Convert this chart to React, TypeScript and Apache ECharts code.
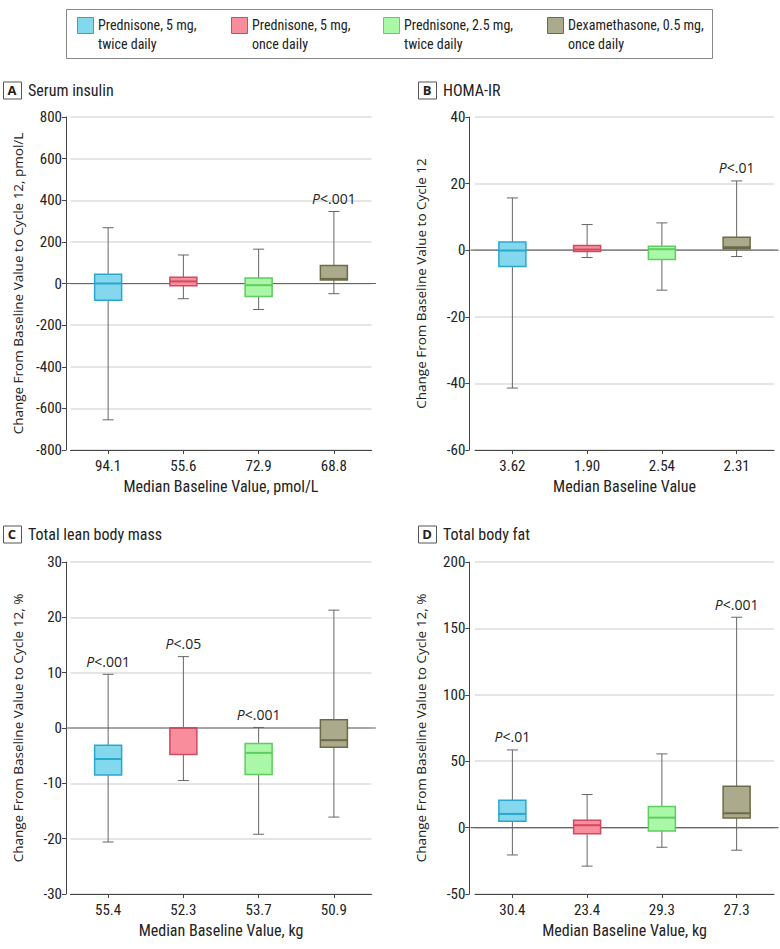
import React, { useEffect, useRef } from 'react';
import * as echarts from 'echarts';

// ---------- data ----------
const treatments = [
  'Prednisone, 5 mg,\ntwice daily',
  'Prednisone, 5 mg,\nonce daily',
  'Prednisone, 2.5 mg,\ntwice daily',
  'Dexamethasone, 0.5 mg,\nonce daily',
];
const fillColors = ['#84d8ee', '#f88d9b', '#aaf7a7', '#abaa8c'];
const edgeColors = ['#2aa7cf', '#cf4b63', '#5fcd5f', '#6c6b47'];

const panelLetters = ['A', 'B', 'C', 'D'];
const panelTitles = ['Serum insulin', 'HOMA-IR', 'Total lean body mass', 'Total body fat'];
const yTitles = [
  'Change From Baseline Value to Cycle 12, pmol/L',
  'Change From Baseline Value to Cycle 12',
  'Change From Baseline Value to Cycle 12, %',
  'Change From Baseline Value to Cycle 12, %',
];
const xTitles = [
  'Median Baseline Value, pmol/L',
  'Median Baseline Value',
  'Median Baseline Value, kg',
  'Median Baseline Value, kg',
];

// categories (median baseline values)
const insulinCats = ['94.1', '55.6', '72.9', '68.8'];
const homaCats = ['3.62', '1.90', '2.54', '2.31'];
const leanCats = ['55.4', '52.3', '53.7', '50.9'];
const fatCats = ['30.4', '23.4', '29.3', '27.3'];

// box stats: [min, Q1, median, Q3, max]
const insulinBoxes = [
  [-655, -81, 0, 44, 268],
  [-73, -11, 10, 30, 137],
  [-125, -62, -8, 27, 165],
  [-49, 17, 22, 87, 346],
];
const homaBoxes = [
  [-41.4, -4.9, -0.1, 2.5, 15.7],
  [-2.2, -0.4, 0.2, 1.4, 7.7],
  [-12, -2.8, 0.3, 1.2, 8.2],
  [-1.9, 0.4, 0.9, 3.9, 20.8],
];
const leanBoxes = [
  [-20.6, -8.5, -5.6, -3.1, 9.7],
  [-9.5, -4.8, 0, 0, 12.9],
  [-19.2, -8.4, -4.5, -2.8, 0.1],
  [-16.1, -3.5, -2.2, 1.5, 21.3],
];
const fatBoxes = [
  [-20.6, 4.8, 10.3, 20.6, 58.5],
  [-29, -4.7, 1.8, 5.5, 24.9],
  [-14.8, -2.5, 7.5, 15.8, 55.5],
  [-17, 7.3, 10.8, 31.2, 158.4],
];

// P values shown above groups
const insulinP = ['', '', '', '.001'];
const homaP = ['', '', '', '.01'];
const leanP = ['.001', '.05', '.001', ''];
const fatP = ['.01', '', '', '.001'];

// y-axis scales
const yMins = [-800, -60, -30, -50];
const yMaxs = [800, 40, 30, 200];
const yIntervals = [200, 20, 10, 50];

const allCats = [insulinCats, homaCats, leanCats, fatCats];
const allBoxes = [insulinBoxes, homaBoxes, leanBoxes, fatBoxes];
const allP = [insulinP, homaP, leanP, fatP];

// ---------- layout ----------
const NARROW = '"Liberation Sans Narrow", "Roboto Condensed", Roboto, sans-serif';
const WIDE = '"Open Sans", "Noto Sans", sans-serif';

const grids = [
  { left: 70.5, top: 117, width: 301, height: 333, off: 4.5 },
  { left: 475, top: 117, width: 299, height: 333, off: 5.7 },
  { left: 70.5, top: 562, width: 301, height: 332, off: 4.5 },
  { left: 475, top: 562, width: 299, height: 332, off: 5.7 },
];
const titleY = [90, 90, 534, 534];
const titleX = [3, 418, 3, 418];

function makeBoxRender(panel: number) {
  return function (params: any, api: any) {
    const i = api.value(0);
    const lo = api.coord([i, api.value(1)]);
    const q1 = api.coord([i, api.value(2)]);
    const md = api.coord([i, api.value(3)]);
    const q3 = api.coord([i, api.value(4)]);
    const hi = api.coord([i, api.value(5)]);
    const x = hi[0];
    const bw = 27;
    const cw = 11;
    const k = params.dataIndex;
    const wStyle = { stroke: '#666', lineWidth: 1 };
    const children: any[] = [
      { type: 'line', shape: { x1: x, y1: hi[1], x2: x, y2: q3[1] }, style: wStyle },
      { type: 'line', shape: { x1: x, y1: q1[1], x2: x, y2: lo[1] }, style: wStyle },
      { type: 'line', shape: { x1: x - cw / 2, y1: hi[1], x2: x + cw / 2, y2: hi[1] }, style: wStyle },
      { type: 'line', shape: { x1: x - cw / 2, y1: lo[1], x2: x + cw / 2, y2: lo[1] }, style: wStyle },
      {
        type: 'rect',
        shape: { x: x - bw / 2, y: q3[1], width: bw, height: Math.max(q1[1] - q3[1], 1) },
        style: { fill: fillColors[k], stroke: edgeColors[k], lineWidth: 1.5 },
      },
      {
        type: 'line',
        shape: { x1: x - bw / 2, y1: md[1], x2: x + bw / 2, y2: md[1] },
        style: { stroke: edgeColors[k], lineWidth: 2 },
      },
    ];
    const p = allP[panel][k];
    if (p) {
      children.push({
        type: 'text',
        x: x,
        y: hi[1] - 13,
        style: {
          text: '{i|P}{n|<' + p + '}',
          align: 'center',
          verticalAlign: 'middle',
          rich: {
            i: { fontStyle: 'italic', fontSize: 14, fontFamily: WIDE, fill: '#222' },
            n: { fontSize: 14, fontFamily: WIDE, fill: '#222' },
          },
        },
      });
    }
    return { type: 'group', children };
  };
}

function zeroRender(params: any, api: any) {
  const cs = params.coordSys;
  const y0 = api.coord([0, 0])[1];
  return {
    type: 'line',
    shape: { x1: cs.x - 4.5, y1: y0, x2: cs.x + cs.width + 4.5, y2: y0 },
    style: { stroke: '#666', lineWidth: 1.2 },
  };
}

function buildOption() {
  const grid: any[] = [];
  const xAxis: any[] = [];
  const yAxis: any[] = [];
  const series: any[] = [];
  const graphic: any[] = [];

  for (let p = 0; p < 4; p++) {
    const g = grids[p];
    grid.push({ left: g.left, top: g.top, width: g.width, height: g.height });
    xAxis.push({
      type: 'category',
      gridIndex: p,
      data: allCats[p],
      boundaryGap: true,
      axisLine: { onZero: false, lineStyle: { color: '#444', width: 1 } },
      axisTick: { show: true, alignWithLabel: true, length: 4, lineStyle: { color: '#444' } },
      axisLabel: { margin: 8, fontSize: 15, fontFamily: NARROW, color: '#222' },
      splitLine: { show: false },
      name: xTitles[p],
      nameLocation: 'middle',
      nameGap: 28,
      nameTextStyle: { fontSize: 16, fontFamily: NARROW, color: '#222' },
    });
    yAxis.push({
      type: 'value',
      gridIndex: p,
      min: yMins[p],
      max: yMaxs[p],
      interval: yIntervals[p],
      offset: g.off,
      axisLine: { show: true, lineStyle: { color: '#444', width: 1 } },
      axisTick: { show: true, length: 4, lineStyle: { color: '#444' } },
      axisLabel: { margin: 4, fontSize: 15, fontFamily: NARROW, color: '#222' },
      splitLine: { show: true, lineStyle: { color: '#dddddd', width: 1.5 } },
      name: yTitles[p],
      nameLocation: 'middle',
      nameGap: 41,
      nameTextStyle: { fontSize: 13.5, fontFamily: WIDE, color: '#222' },
    });
    series.push({
      type: 'custom',
      xAxisIndex: p,
      yAxisIndex: p,
      z: 1,
      silent: true,
      renderItem: zeroRender,
      data: [[0, 0]],
      encode: { x: 0, y: 1 },
    });
    series.push({
      type: 'custom',
      xAxisIndex: p,
      yAxisIndex: p,
      z: 3,
      silent: true,
      renderItem: makeBoxRender(p),
      data: allBoxes[p].map((b, i) => [i, ...b]),
      encode: { x: 0, y: [1, 2, 3, 4, 5] },
    });

    // panel title
    graphic.push({
      type: 'rect',
      left: titleX[p],
      top: titleY[p] - 8.5,
      shape: { width: 18, height: 17 },
      style: { fill: '#fff', stroke: '#555', lineWidth: 1 },
    });
    graphic.push({
      type: 'text',
      x: titleX[p] + 9,
      y: titleY[p],
      style: {
        text: panelLetters[p],
        align: 'center',
        verticalAlign: 'middle',
        fontSize: 13,
        fontWeight: 'bold',
        fontFamily: WIDE,
        fill: '#222',
      },
    });
    graphic.push({
      type: 'text',
      x: titleX[p] + 25,
      y: titleY[p],
      style: {
        text: panelTitles[p],
        verticalAlign: 'middle',
        fontSize: 16,
        fontFamily: NARROW,
        fill: '#222',
      },
    });
  }

  // legend
  graphic.push({
    type: 'rect',
    left: 66,
    top: 9,
    shape: { width: 646, height: 49 },
    style: { fill: '#fff', stroke: '#888', lineWidth: 1 },
  });
  const legX = [77, 231, 383, 547];
  for (let i = 0; i < 4; i++) {
    graphic.push({
      type: 'rect',
      left: legX[i],
      top: 17,
      shape: { width: 16, height: 16 },
      style: { fill: fillColors[i], stroke: edgeColors[i], lineWidth: 1 },
    });
    graphic.push({
      type: 'text',
      x: legX[i] + 21,
      y: 15,
      style: {
        text: treatments[i],
        fontSize: 14,
        lineHeight: 19,
        fontFamily: NARROW,
        fill: '#222',
        verticalAlign: 'top',
      },
    });
  }

  return {
    animation: false,
    backgroundColor: '#fff',
    grid,
    xAxis,
    yAxis,
    series,
    graphic,
  };
}

export default function App() {
  const ref = useRef<HTMLDivElement>(null);
  useEffect(() => {
    if (!ref.current) return;
    const chart = echarts.init(ref.current, undefined, { renderer: 'svg' });
    chart.setOption(buildOption() as any);
    return () => chart.dispose();
  }, []);
  return (
    <div
      ref={ref}
      style={{ position: 'absolute', left: 0, top: 0, width: 780, height: 949 }}
    />
  );
}
